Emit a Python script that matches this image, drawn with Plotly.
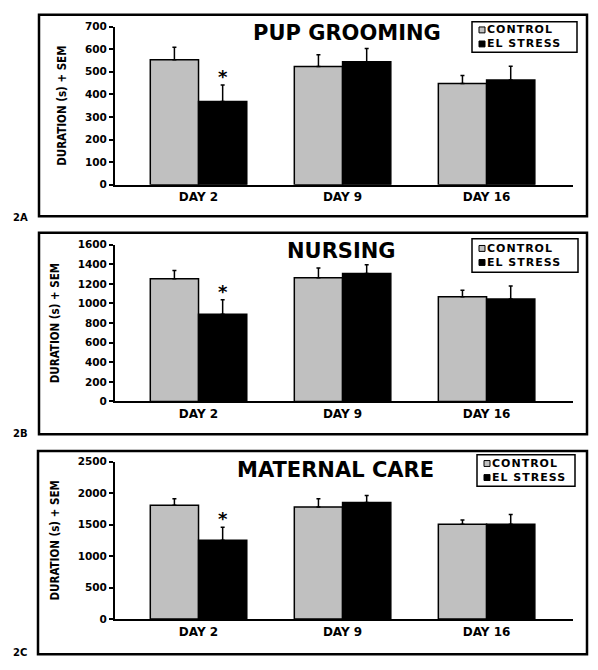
import plotly.graph_objects as go

days = ["DAY 2", "DAY 9", "DAY 16"]
series_names = ["CONTROL", "EL STRESS"]
panel_titles = ["PUP GROOMING", "NURSING", "MATERNAL CARE"]
panel_tags = ["2A", "2B", "2C"]

groom_control = [553, 523, 448]
groom_control_sem = [56, 52, 36]
groom_stress = [368, 545, 464]
groom_stress_sem = [74, 58, 61]

nurse_control = [1252, 1262, 1069]
nurse_control_sem = [84, 100, 67]
nurse_stress = [889, 1306, 1046]
nurse_stress_sem = [150, 90, 133]

care_control = [1809, 1782, 1507]
care_control_sem = [103, 130, 68]
care_stress = [1252, 1850, 1507]
care_stress_sem = [208, 115, 156]

y_max = [700, 1600, 2500]
y_dtick = [100, 200, 500]
significant_day = "DAY 2"

panels = [
    (groom_control, groom_control_sem, groom_stress, groom_stress_sem),
    (nurse_control, nurse_control_sem, nurse_stress, nurse_stress_sem),
    (care_control, care_control_sem, care_stress, care_stress_sem),
]

W, H = 598, 670
plot_left, plot_right = 115, 573
plot_tops = [21, 243, 464]
plot_bottoms = [182, 402.7, 624.3]
boxes = [(39, 9, 587, 214), (39, 231, 587, 436), (38, 453, 587, 660)]
legend_boxes = [(472, 16, 577, 47), (472, 237, 578, 271), (477, 457, 575, 489)]
title_pos = [(347, 27), (341, 249), (335, 472)]
tag_pos = [(20, 215), (20, 435), (20, 658)]

bold = "DejaVu Sans"
colors = ["#c0c0c0", "#000000"]
legend_font = 11
line_gap = 1.3 * legend_font


def px(x):
    return x / W


def py(y):
    return 1 - y / H


fig = go.Figure()
shapes = []
annotations = []
for i, (c, cs, s, ss) in enumerate(panels):
    n = "" if i == 0 else str(i + 1)
    xa, ya = "x" + n, "y" + n
    for name, vals, errs, col in [(series_names[0], c, cs, colors[0]),
                                  (series_names[1], s, ss, colors[1])]:
        fig.add_trace(go.Bar(
            x=days, y=vals, name=name, xaxis=xa, yaxis=ya, showlegend=False,
            marker=dict(color=col, line=dict(color="black", width=1.5)),
            error_y=dict(type="data", array=errs, arrayminus=[0] * len(errs),
                         symmetric=False, color="black", thickness=1.5, width=2),
        ))
    dom_y = [py(plot_bottoms[i]), py(plot_tops[i])]
    fig.update_layout(**{
        "xaxis" + n: dict(domain=[px(plot_left), px(plot_right)], anchor=ya,
                          range=[-0.58, 2.6], showline=True, linecolor="black",
                          linewidth=2, ticks="", showgrid=False, zeroline=False,
                          tickfont=dict(family=bold, size=12, color="black", weight="bold")),
        "yaxis" + n: dict(domain=dom_y, anchor=xa, range=[0, y_max[i]],
                          dtick=y_dtick[i], showline=True, linecolor="black",
                          linewidth=2, ticks="outside", ticklen=4, tickwidth=1.5,
                          tickcolor="black", showgrid=False, zeroline=False,
                          tickfont=dict(family=bold, size=10.5, color="black", weight="bold"),
                          title=dict(text="DURATION (s) + SEM", standoff=16,
                                     font=dict(family="DejaVu Sans Condensed, Liberation Sans Narrow, sans-serif",
                                               size=11.5, color="black", weight="bold"))),
    })
    # outer panel frame
    x0, y0, x1, y1 = boxes[i]
    shapes.append(dict(type="rect", xref="paper", yref="paper",
                       x0=px(x0), x1=px(x1), y0=py(y1), y1=py(y0),
                       line=dict(color="black", width=2.5)))
    # legend box
    lx0, ly0, lx1, ly1 = legend_boxes[i]
    shapes.append(dict(type="rect", xref="paper", yref="paper",
                       x0=px(lx0), x1=px(lx1), y0=py(ly1), y1=py(ly0),
                       fillcolor="white", line=dict(color="black", width=1.5)))
    mid = (ly0 + ly1) / 2
    for j, col in enumerate(colors):
        cy = mid + (j - 0.5) * line_gap
        shapes.append(dict(type="rect", xref="paper", yref="paper",
                           x0=px(lx0 + 7), x1=px(lx0 + 13),
                           y0=py(cy + 3), y1=py(cy - 3),
                           fillcolor=col, line=dict(color="black", width=1)))
    legend_text = "<br>".join(
        "<span style='letter-spacing:1px'>%s</span>" % nm for nm in series_names)
    annotations.append(dict(text=legend_text, xref="paper", yref="paper",
                            x=px(lx0 + 14), y=py(mid), showarrow=False,
                            xanchor="left", yanchor="middle", align="left",
                            borderpad=0,
                            font=dict(family=bold, size=legend_font, color="black", weight="bold")))
    annotations.append(dict(text=panel_titles[i], xref="paper", yref="paper",
                            x=px(title_pos[i][0]), y=py(title_pos[i][1]),
                            showarrow=False, xanchor="center", yanchor="middle",
                            font=dict(family=bold, size=21, color="black", weight="bold")))
    annotations.append(dict(text=panel_tags[i], xref="paper", yref="paper",
                            x=px(tag_pos[i][0]), y=py(tag_pos[i][1]),
                            showarrow=False, xanchor="center", yanchor="middle",
                            font=dict(family=bold, size=10, color="black", weight="bold")))
    k = days.index(significant_day)
    annotations.append(dict(text="*", xref=xa, yref=ya, x=k + 0.167,
                            y=s[k] + ss[k], showarrow=False, yanchor="bottom",
                            yshift=-4,
                            font=dict(family=bold, size=18, color="black", weight="bold")))

fig.update_layout(width=W, height=H, margin=dict(l=0, r=0, t=0, b=0),
                  paper_bgcolor="white", plot_bgcolor="white",
                  barmode="group", bargap=0.33, bargroupgap=0,
                  shapes=shapes, annotations=annotations, showlegend=False)
fig.write_html("out.html", config={"displayModeBar": False},
               post_script="document.documentElement.style.margin='0';document.body.style.margin='0';document.body.style.overflow='hidden';document.documentElement.style.overflow='hidden';")
